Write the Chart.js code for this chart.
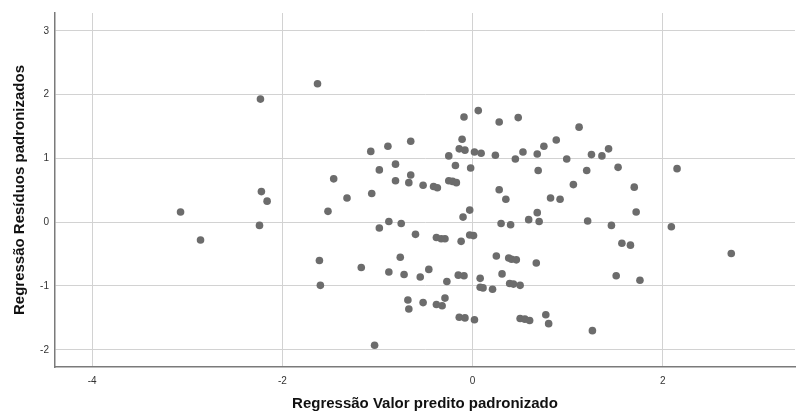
<!DOCTYPE html>
<html>
<head>
<meta charset="utf-8">
<script src="https://cdn.jsdelivr.net/npm/chart.js@4"></script>
<style>
  html, body { margin: 0; padding: 0; background: #fff; }
  #wrap { width: 803px; height: 414px; }
</style>
</head>
<body>
<div id="wrap"><canvas id="chart"></canvas></div>
<script>
// standardized predicted value (x) and standardized residual (y)
let predicted = [
	-3.07, -2.86, -2.23, -2.22, -2.16, -2.24, -1.63, -1.61, -1.60, -1.52,
	-1.46, -1.32, -1.17, -1.07, -1.06, -1.03, -0.98, -0.98, -0.89, -0.88,
	-0.88, -0.81, -0.81, -0.76, -0.75, -0.72, -0.68, -0.67, -0.67, -0.65,
	-0.65, -0.60, -0.55, -0.52, -0.52, -0.46, -0.41, -0.37, -0.38, -0.38,
	-0.33, -0.32, -0.29, -0.29, -0.27, -0.25, -0.25, -0.21, -0.17, -0.18,
	-0.15, -0.14, -0.14, -0.12, -0.11, -0.10, -0.09, -0.09, -0.08, -0.08,
	-0.03, -0.02, -0.03, 0.01, 0.02, 0.02, 0.06, 0.08, 0.09, 0.08,
	0.11, 0.21, 0.24, 0.25, 0.28, 0.28, 0.30, 0.31, 0.35, 0.38,
	0.39, 0.40, 0.41, 0.43, 0.45, 0.46, 0.48, 0.50, 0.50, 0.53,
	0.55, 0.59, 0.60, 0.67, 0.68, 0.68, 0.69, 0.70, 0.75, 0.77,
	0.80, 0.82, 0.88, 0.92, 0.99, 1.06, 1.12, 1.20, 1.21, 1.25,
	1.26, 1.36, 1.43, 1.46, 1.51, 1.53, 1.57, 1.66, 1.70, 1.72,
	1.76, 2.09, 2.15, 2.72
];
let residuals = [
	0.16, -0.28, 1.93, 0.48, 0.33, -0.05, 2.17, -0.60, -0.99, 0.17,
	0.68, 0.38, -0.71, 1.11, 0.45, -1.93, -0.09, 0.82, 1.19, 0.01,
	-0.78, 0.91, 0.65, -0.55, -0.02, -0.82, -1.22, -1.36, 0.62, 1.27,
	0.74, -0.19, -0.86, -1.26, 0.58, -0.74, 0.56, 0.54, -0.24, -1.29,
	-0.26, -1.31, -0.26, -1.19, -0.93, 1.04, 0.65, 0.64, 0.62, 0.89,
	-0.83, 1.15, -1.49, -0.30, 1.30, 0.08, 1.65, -0.84, 1.13, -1.50,
	0.19, 0.85, -0.20, -0.21, -1.53, 1.10, 1.75, -0.88, 1.08, -1.02,
	-1.03, -1.05, 1.05, -0.53, 1.57, 0.51, -0.02, -0.81, 0.36, -0.56,
	-0.96, -0.04, -0.58, -0.97, 0.99, -0.59, 1.64, -0.99, -1.51, 1.10,
	-1.52, 0.04, -1.54, -0.64, 0.15, 1.07, 0.81, 0.01, 1.19, -1.45,
	-1.59, 0.38, 1.29, 0.36, 0.99, 0.59, 1.49, 0.81, 0.02, 1.06,
	-1.70, 1.04, 1.15, -0.05, -0.84, 0.86, -0.33, -0.36, 0.55, 0.16,
	-0.91, -0.07, 0.84, -0.49
];
let xTicks = [-4, -2, 0, 2];
let yTicks = [-2, -1, 0, 1, 2, 3];

let points = predicted.map((x, i) => ({ x: x, y: residuals[i] }));

let data = {
	datasets: [
		{
			data: points,
			backgroundColor: "rgb(108, 108, 108)",
			borderWidth: 0,
			pointRadius: 3.8,
			pointHoverRadius: 3.8,
		},
	],
};

const tickFont = { family: "'Liberation Sans', Arial, sans-serif", size: 10 };
const titleFont = { family: "'Liberation Sans', Arial, sans-serif", size: 15, weight: "bold" };

let config = {
	type: "scatter",
	data: data,
	options: {
		responsive: true,
		maintainAspectRatio: false,
		animation: false,
		layout: {
			padding: { top: 13, right: 8, left: 0, bottom: 0 },
		},
		plugins: {
			legend: { display: false },
			tooltip: { enabled: false },
		},
		scales: {
			x: {
				type: "linear",
				min: -4.39,
				max: 3.39,
				afterBuildTicks: (scale) => {
					scale.ticks = xTicks.map((v) => ({ value: v }));
				},
				afterFit: (scale) => {
					scale.height = 47;
				},
				grid: {
					color: "#d2d2d2",
					lineWidth: 1,
					drawTicks: false,
				},
				border: { color: "#7a7a7a", width: 1.5 },
				ticks: {
					color: "#333",
					font: tickFont,
					padding: 8,
					maxRotation: 0,
				},
				title: {
					display: true,
					text: "Regressão Valor predito padronizado",
					color: "#111",
					font: titleFont,
					padding: { top: 0, bottom: 1 },
				},
			},
			y: {
				type: "linear",
				min: -2.27,
				max: 3.28,
				afterBuildTicks: (scale) => {
					scale.ticks = yTicks.map((v) => ({ value: v }));
				},
				afterFit: (scale) => {
					scale.width = 55;
				},
				grid: {
					color: "#d2d2d2",
					lineWidth: 1,
					drawTicks: false,
				},
				border: { color: "#7a7a7a", width: 1.5 },
				ticks: {
					color: "#333",
					font: tickFont,
					padding: 6,
				},
				title: {
					display: true,
					text: "Regressão Resíduos padronizados",
					color: "#111",
					font: titleFont,
					padding: { top: 11, bottom: 0 },
				},
			},
		},
	},
};

const chart = new Chart(document.getElementById("chart"), config);
</script>
</body>
</html>
